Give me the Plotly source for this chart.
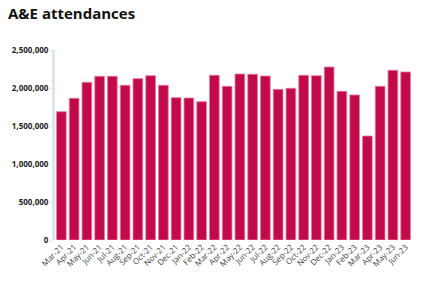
import plotly.graph_objects as go

months = ["Mar-21","Apr-21","May-21","Jun-21","Jul-21","Aug-21","Sep-21","Oct-21","Nov-21","Dec-21",
          "Jan-22","Feb-22","Mar-22","Apr-22","May-22","Jun-22","Jul-22","Aug-22","Sep-22","Oct-22",
          "Nov-22","Dec-22","Jan-23","Feb-23","Mar-23","Apr-23","May-23","Jun-23"]
attendances = [1688000, 1864000, 2075000, 2154000, 2154000, 2035000, 2123000, 2162000, 2035000, 1873000,
               1868000, 1820000, 2167000, 2022000, 2184000, 2180000, 2158000, 1982000, 1996000, 2167000,
               2162000, 2276000, 1956000, 1908000, 1368000, 2022000, 2233000, 2211000]
y_ticks = [0, 500000, 1000000, 1500000, 2000000, 2500000]
y_tick_labels = ["0", "500,000", "1,000,000", "1,500,000", "2,000,000", "2,500,000"]

fig = go.Figure(go.Bar(
    x=months, y=attendances,
    marker=dict(color="#c20a4b", line=dict(color="#e57a9c", width=0.8)),
))

fig.update_layout(
    width=429, height=289,
    margin=dict(l=42, r=17, t=50, b=49),
    paper_bgcolor="white", plot_bgcolor="white",
    bargap=0.24,
    showlegend=False,
    font=dict(family="Open Sans, sans-serif", color="#333"),
    title=dict(text="<b>A&E attendances</b>", x=8/429, xanchor="left", xref="container",
               y=1-14/289, yanchor="middle", yref="container",
               font=dict(size=15, color="#111", family="Open Sans, sans-serif")),
)
fig.update_xaxes(
    tickangle=-45, tickfont=dict(size=8, color="#444"),
    showgrid=False, showline=False, ticks="", ticklen=0,
)
fig.update_yaxes(
    range=[0, 2500000], tickvals=y_ticks, ticktext=y_tick_labels,
    tickfont=dict(size=8, color="#222", family="Open Sans, sans-serif", weight="bold"),
    showgrid=False, zeroline=False,
    showline=True, linecolor="#dde6ee", linewidth=3,
    ticks="outside", ticklen=2, tickcolor="#dde6ee", tickwidth=1,
)

fig.write_html("out.html")
